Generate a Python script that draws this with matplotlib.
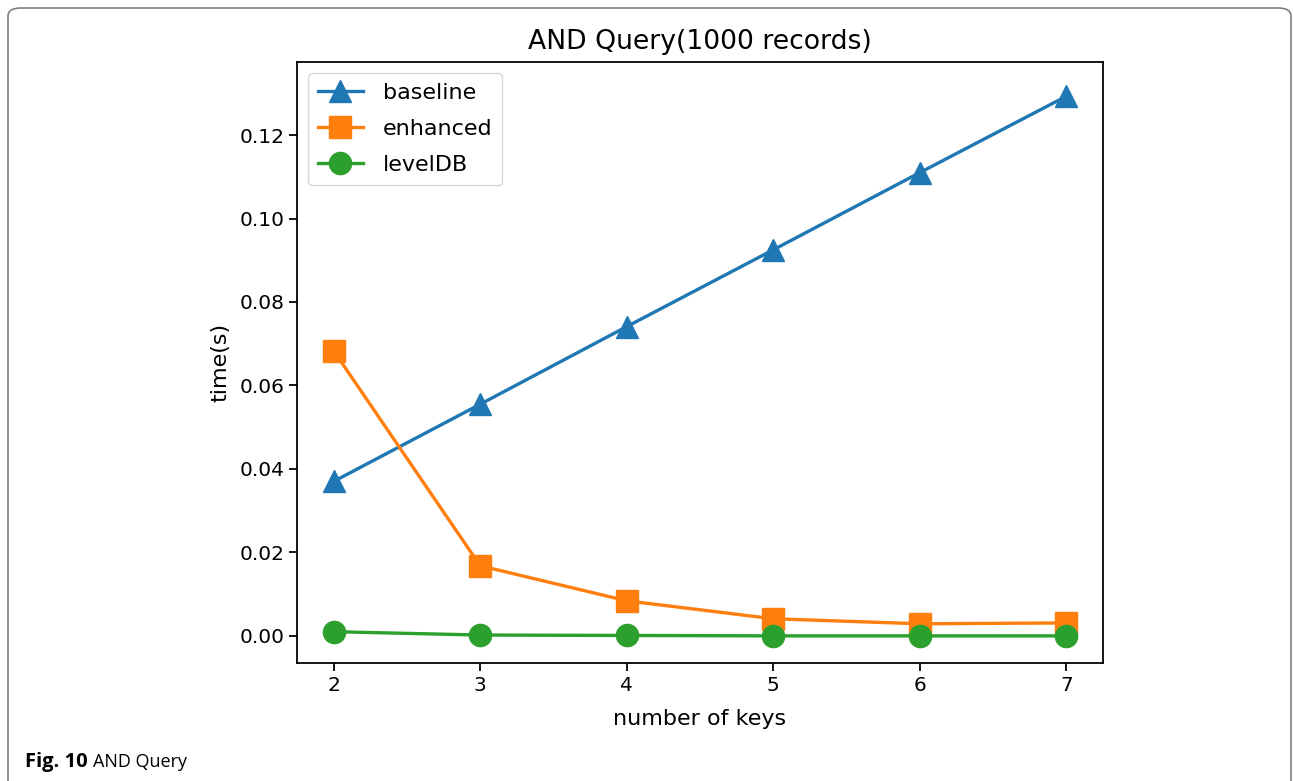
import matplotlib.pyplot as plt
from matplotlib.patches import FancyBboxPatch

# data
keys = [2, 3, 4, 5, 6, 7]
baseline = [0.0370, 0.0555, 0.0741, 0.0925, 0.1110, 0.1293]
enhanced = [0.0683, 0.0168, 0.0084, 0.0041, 0.0029, 0.0031]
leveldb = [0.0010, 0.0002, 0.0001, 0.0000, 0.0000, 0.0000]

s = 1.6  # the chart is a scaled-up default matplotlib figure

fig = plt.figure(figsize=(12.93, 7.81), dpi=100)

# frame around the figure + caption
frame = FancyBboxPatch((8 / 1293, -0.05), 1283 / 1293, 1.05 - 8 / 781,
                       boxstyle="round,pad=0,rounding_size=0.01",
                       transform=fig.transFigure, fill=False,
                       edgecolor='#808080', linewidth=1.2)
fig.patches.append(frame)
t1 = fig.text(25 / 1293, 1 - 767 / 781, 'Fig. 10', fontsize=14.5, fontweight='bold',
              family='Open Sans', va='baseline')
fig.canvas.draw()
bb = t1.get_window_extent()
fig.text((bb.x1 + 5) / 1293, 1 - 767 / 781, 'AND Query', fontsize=13,
         family='Open Sans', va='baseline')

ax = fig.add_axes([297 / 1293, 1 - 663 / 781, 806 / 1293, 601 / 781])
ax.plot(keys, baseline, marker='^', markersize=10 * s, linewidth=1.5 * s, label='baseline')
ax.plot(keys, enhanced, marker='s', markersize=10 * s, linewidth=1.5 * s, label='enhanced')
ax.plot(keys, leveldb, marker='o', markersize=10 * s, linewidth=1.5 * s, label='levelDB')

ax.set_ylim(-0.0065, 0.1375)
ax.set_xlim(1.75, 7.25)
ax.set_yticks([0.00, 0.02, 0.04, 0.06, 0.08, 0.10, 0.12])
ax.set_yticklabels(['0.00', '0.02', '0.04', '0.06', '0.08', '0.10', '0.12'])
ax.tick_params(labelsize=14.5, length=3.5 * s, width=0.8 * s)
for sp in ax.spines.values():
    sp.set_linewidth(0.8 * s)

ax.set_title('AND Query(1000 records)', fontsize=12 * s, pad=6 * s)
ax.set_xlabel('number of keys', fontsize=16, labelpad=10)
ax.set_ylabel('time(s)', fontsize=16, labelpad=4 * s)
ax.legend(loc='upper left', fontsize=16, borderpad=0.45, labelspacing=0.72,
          handlelength=2.0, handletextpad=0.9)

fig.savefig('out.png', dpi=100)
